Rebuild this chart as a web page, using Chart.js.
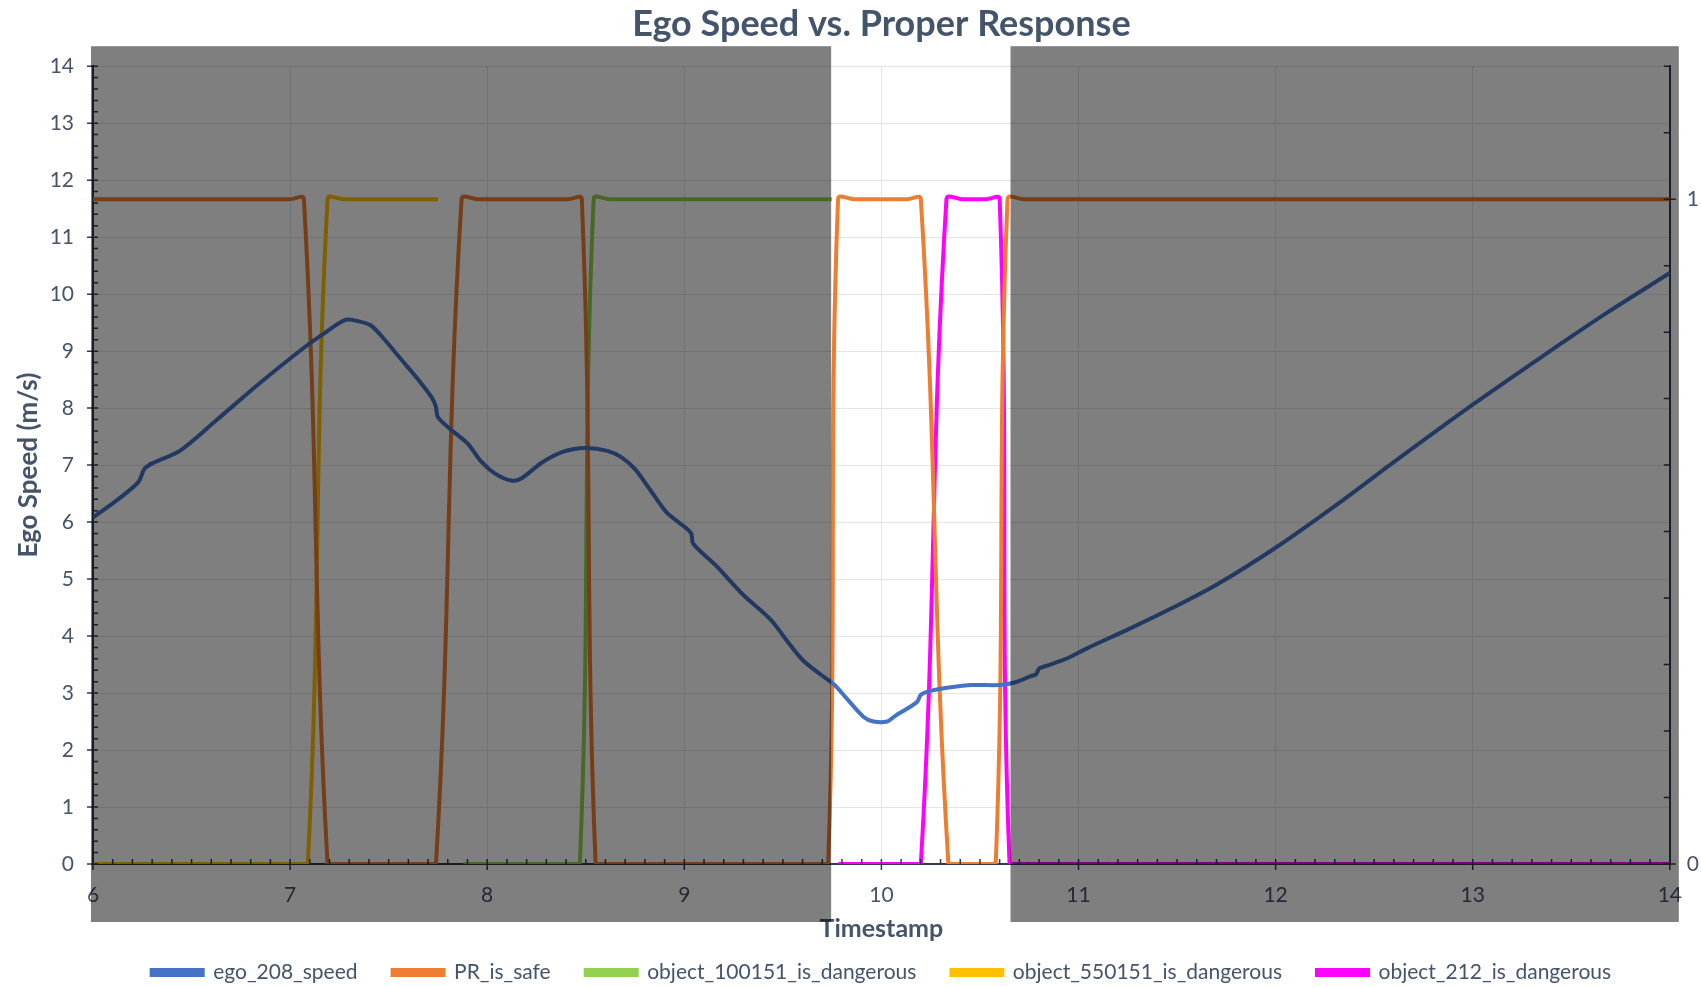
<!DOCTYPE html>
<html>
<head>
<meta charset="utf-8">
<script src="https://cdn.jsdelivr.net/npm/chart.js@4.4.1/dist/chart.umd.min.js"></script>
<style>
  html, body { margin: 0; padding: 0; background: #fff; }
  #wrap { width: 1701px; height: 987px; }
</style>
</head>
<body>
<div id="wrap"><canvas id="speed-chart"></canvas></div>
<script>
// ego speed (m/s) against timestamp
const egoTime = [6.0, 6.12, 6.23, 6.26, 6.3, 6.44, 6.63, 6.85, 7.07, 7.18, 7.28, 7.34, 7.41, 7.48, 7.56, 7.65, 7.72, 7.74, 7.75, 7.81,
  7.9, 7.97, 8.04, 8.12, 8.17, 8.28, 8.39, 8.5, 8.61, 8.68, 8.75, 8.83, 8.91, 9.0, 9.035, 9.045, 9.16, 9.3, 9.44, 9.52,
  9.6, 9.69, 9.76, 9.82, 9.91, 9.96, 10.03, 10.07, 10.18, 10.2, 10.24, 10.35, 10.46, 10.6, 10.68, 10.76, 10.785, 10.8, 10.84, 10.95,
  11.04, 11.26, 11.48, 11.7, 12.0, 12.3, 12.63, 13.0, 13.35, 13.68, 14.0];
const egoSpeed = [6.08, 6.38, 6.7, 6.93, 7.03, 7.25, 7.8, 8.45, 9.06, 9.33, 9.55, 9.53, 9.45, 9.2, 8.87, 8.5, 8.18, 8.02, 7.84, 7.64,
  7.38, 7.06, 6.85, 6.73, 6.76, 7.05, 7.24, 7.3, 7.25, 7.14, 6.93, 6.55, 6.17, 5.92, 5.8, 5.62, 5.24, 4.72, 4.28, 3.92,
  3.58, 3.33, 3.15, 2.92, 2.58, 2.5, 2.5, 2.6, 2.84, 2.97, 3.03, 3.1, 3.14, 3.14, 3.19, 3.3, 3.33, 3.43, 3.48, 3.62,
  3.78, 4.13, 4.5, 4.9, 5.55, 6.28, 7.13, 8.06, 8.9, 9.67, 10.37];

// flags (0 / 1) on the right axis
const prTime = [6.0, 7.0, 7.07, 7.19, 7.26, 7.67, 7.74, 7.87, 7.95, 8.41, 8.48, 8.55, 8.62, 9.66, 9.73, 9.78, 9.86,
  10.13, 10.2, 10.34, 10.41, 10.51, 10.58, 10.64, 10.72, 14.0];
const prSafe = [1, 1, 1, 0, 0, 0, 0, 1, 1, 1, 1, 0, 0, 0, 0, 1, 1, 1, 1, 0, 0, 0, 0, 1, 1, 1];

const obj100151Time = [7.88, 8.4, 8.47, 8.54, 8.62, 9.75];
const obj100151Flag = [0, 0, 0, 1, 1, 1];

const obj550151Time = [6.0, 7.02, 7.09, 7.19, 7.27, 7.75];
const obj550151Flag = [0, 0, 0, 1, 1, 1];

const obj212Time = [9.78, 10.13, 10.2, 10.33, 10.41, 10.53, 10.6, 10.65, 10.73, 14.0];
const obj212Flag = [0, 0, 0, 1, 1, 1, 1, 0, 0, 0];

const xTickValues = [6, 7, 8, 9, 10, 11, 12, 13, 14];
const rightLabels = [0, 1];
const clearWindow = [9.745, 10.655];

const axisColor = "#2f3c4f";
const textColor = "#44546A";
const fontFamily = "Lato, 'Open Sans', sans-serif";

function pairs(xs, ys) {
  return xs.map((x, i) => ({ x: x, y: ys[i] }));
}

const tickMarks = {
  id: "tickMarks",
  afterDatasetsDraw(chart) {
    const { ctx, scales } = chart;
    const x = scales.x, y = scales.y, y1 = scales.y1;
    ctx.save();
    ctx.strokeStyle = axisColor;
    ctx.lineWidth = 1.5;
    ctx.beginPath();
    // left axis: minor every 0.2
    for (let i = 0; i <= 70; i++) {
      const py = y.getPixelForValue(i / 5);
      const major = i % 5 === 0;
      ctx.moveTo(y.right - (major ? 6 : 0), py);
      ctx.lineTo(y.right + 5, py);
    }
    // bottom axis: minor every 0.1
    for (let i = 0; i <= 80; i++) {
      const px = x.getPixelForValue(6 + i / 10);
      const major = i % 10 === 0;
      ctx.moveTo(px, x.top - 5);
      ctx.lineTo(px, x.top + (major ? 6 : 0));
    }
    // right axis: every 0.1
    for (let i = 0; i <= 12; i++) {
      const py = y1.getPixelForValue(i / 10);
      ctx.moveTo(y1.left - 6, py);
      ctx.lineTo(y1.left + (i === 0 || i === 10 ? 6 : 0), py);
    }
    ctx.stroke();
    ctx.restore();
  }
};

const shade = {
  id: "shade",
  afterDraw(chart) {
    const { ctx, scales } = chart;
    const x = scales.x, y = scales.y;
    const top = y.top - 20, bottom = y.bottom + 58;
    const a = x.getPixelForValue(clearWindow[0]);
    const b = x.getPixelForValue(clearWindow[1]);
    ctx.save();
    ctx.fillStyle = "rgba(0,0,0,0.5)";
    ctx.fillRect(x.left - 2, top, a - (x.left - 2), bottom - top);
    ctx.fillRect(b, top, x.right + 9 - b, bottom - top);
    ctx.restore();
  }
};

const lineStyle = { pointRadius: 0, borderWidth: 4, tension: 0.4, fill: false };

new Chart(document.getElementById("speed-chart").getContext("2d"), {
  type: "line",
  data: {
    datasets: [
      { label: "ego_208_speed", data: pairs(egoTime, egoSpeed), borderColor: "#4472C4", backgroundColor: "#4472C4", yAxisID: "y", ...lineStyle, tension: 0.3 },
      { label: "PR_is_safe", data: pairs(prTime, prSafe), borderColor: "#ED7D31", backgroundColor: "#ED7D31", yAxisID: "y1", ...lineStyle },
      { label: "object_100151_is_dangerous", data: pairs(obj100151Time, obj100151Flag), borderColor: "#92D050", backgroundColor: "#92D050", yAxisID: "y1", ...lineStyle },
      { label: "object_550151_is_dangerous", data: pairs(obj550151Time, obj550151Flag), borderColor: "#FFC000", backgroundColor: "#FFC000", yAxisID: "y1", ...lineStyle },
      { label: "object_212_is_dangerous", data: pairs(obj212Time, obj212Flag), borderColor: "#FF00FF", backgroundColor: "#FF00FF", yAxisID: "y1", ...lineStyle }
    ]
  },
  options: {
    responsive: true,
    maintainAspectRatio: false,
    animation: false,
    layout: { padding: { left: 0, right: 0, top: 0, bottom: -6 } },
    scales: {
      x: {
        type: "linear",
        min: 6,
        max: 14,
        afterBuildTicks: (s) => { s.ticks = xTickValues.map((v) => ({ value: v })); },
        ticks: { color: textColor, font: { family: fontFamily, size: 21 }, padding: 19, maxRotation: 0 },
        grid: { color: "#e4e4e4", drawTicks: false },
        border: { color: axisColor, width: 2 },
        title: { display: true, text: "Timestamp", color: textColor, font: { family: fontFamily, size: 25, weight: "bold" }, padding: { top: 0, bottom: -17 } },
        afterFit: (s) => { s.height = 63; }
      },
      y: {
        position: "left",
        min: 0,
        max: 14,
        ticks: { stepSize: 1, color: textColor, font: { family: fontFamily, size: 21 }, padding: 19 },
        grid: { color: "#e4e4e4", drawTicks: false },
        border: { color: axisColor, width: 2 },
        title: { display: true, text: "Ego Speed (m/s)", color: textColor, font: { family: fontFamily, size: 26, weight: "bold" }, padding: { top: 13, bottom: 0 } },
        afterFit: (s) => { s.width = 93; }
      },
      y1: {
        position: "right",
        min: 0,
        max: 1.2,
        afterBuildTicks: (s) => { s.ticks = rightLabels.map((v) => ({ value: v })); },
        ticks: { color: textColor, font: { family: fontFamily, size: 21 }, padding: 17 },
        grid: { drawOnChartArea: false, drawTicks: false },
        border: { color: axisColor, width: 2 },
        afterFit: (s) => { s.width = 30; }
      }
    },
    plugins: {
      title: {
        display: true,
        fullSize: false,
        text: "Ego Speed vs. Proper Response",
        color: textColor,
        font: { family: fontFamily, size: 36, weight: "bold" },
        padding: { top: 3, bottom: 20 }
      },
      legend: {
        position: "bottom",
        fullSize: false,
        labels: {
          color: textColor,
          font: { family: fontFamily, size: 21 },
          boxWidth: 51,
          boxHeight: 5,
          padding: 35
        }
      },
      tooltip: { enabled: false }
    }
  },
  plugins: [tickMarks, shade]
});
</script>
</body>
</html>
